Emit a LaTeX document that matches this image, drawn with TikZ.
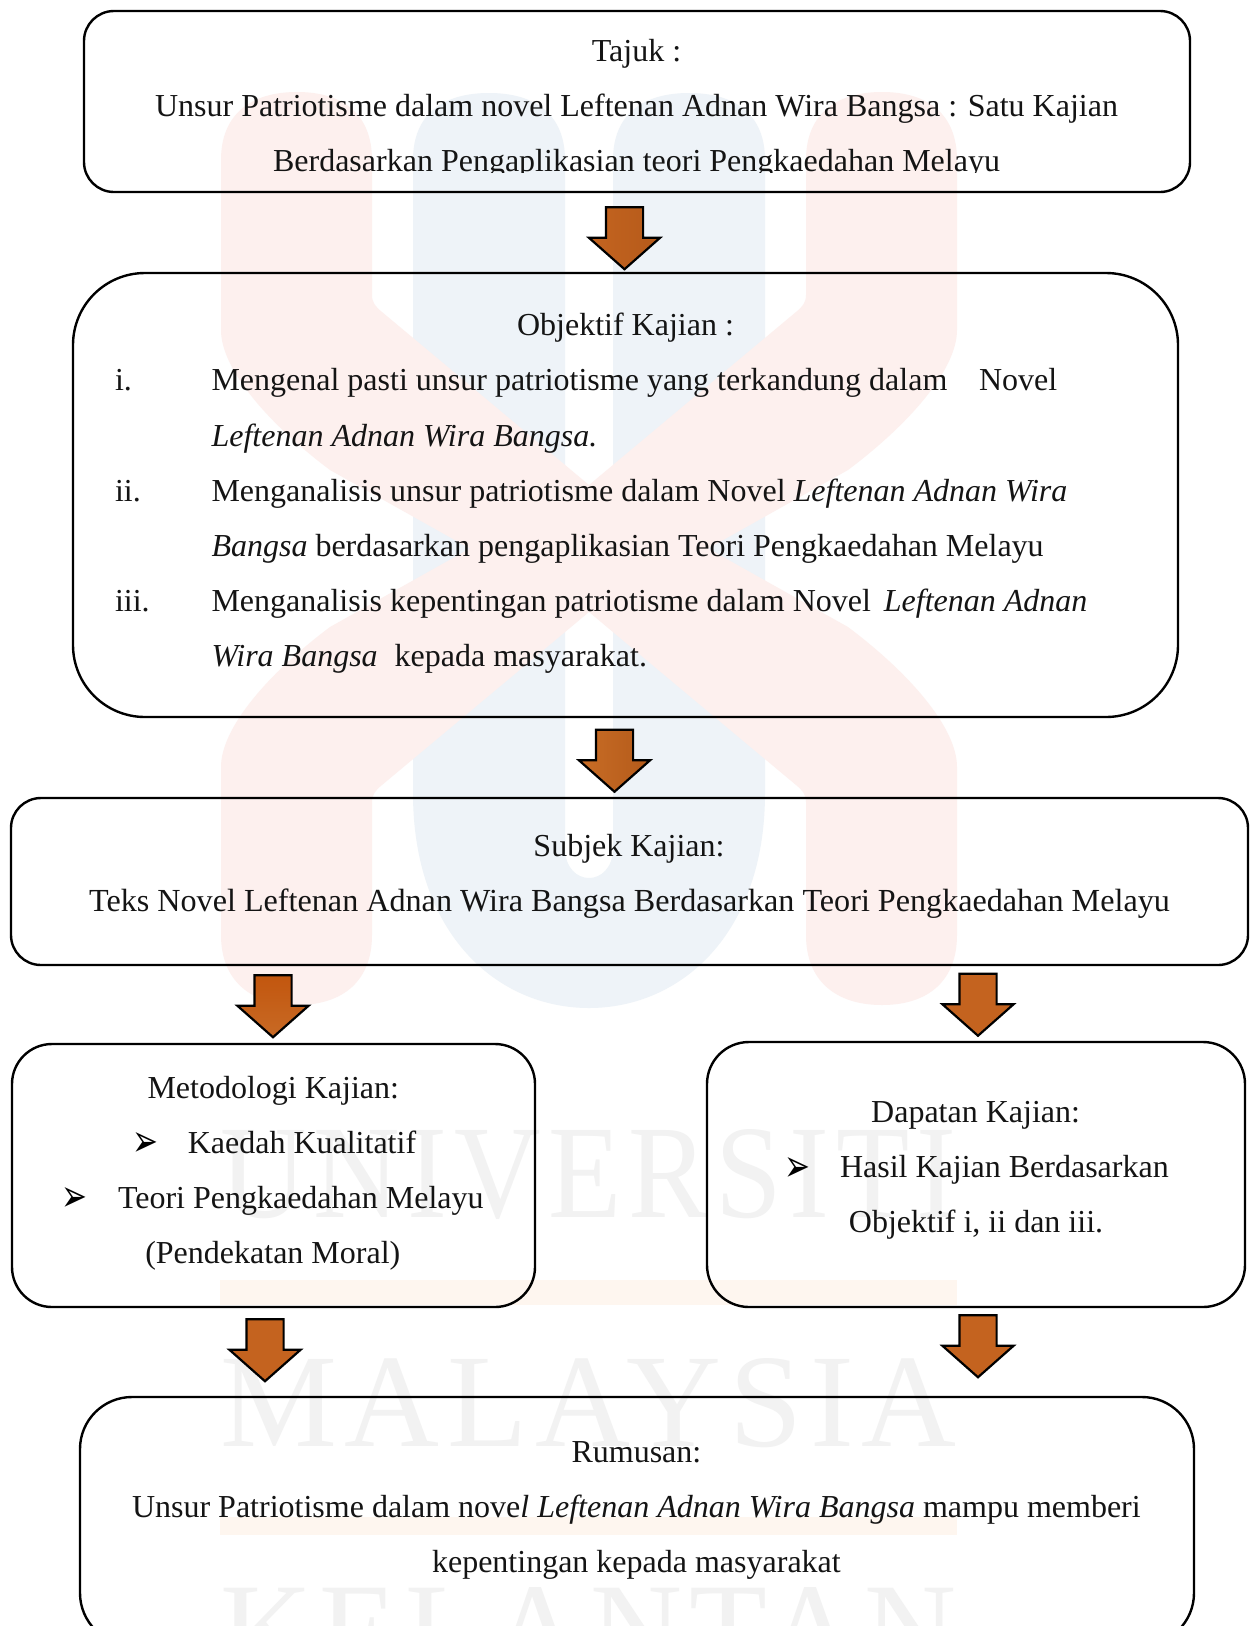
\documentclass[tikz,border=0pt]{standalone}
\usepackage{fontspec}
\usetikzlibrary{shapes.arrows}
\setmainfont{Liberation Serif}
\newfontfamily\dvfont{DejaVu Sans}
\newfontfamily\wmfont[LetterSpace=6]{Liberation Serif}
\definecolor{wmred}{HTML}{FDF0EE}
\definecolor{wmblue}{HTML}{EEF3F8}
\definecolor{wmorange}{HTML}{FEF6EF}
\definecolor{wmgray}{HTML}{F2F2F2}
\definecolor{arrowfill}{HTML}{C4631F}
\definecolor{arLa}{HTML}{C46420}
\definecolor{arRa}{HTML}{B55A1A}
\definecolor{arLb}{HTML}{C96D26}
\definecolor{arRb}{HTML}{B35A1A}
\definecolor{arTc}{HTML}{C2560E}
\definecolor{arBc}{HTML}{C86A25}
\newcommand{\shaftw}{\rule{35pt}{0pt}}
\newcommand{\bulmark}{\scalebox{1}[1.45]{➢}}
\tikzset{
  roundbox/.style={draw=black,line width=2.4pt,rectangle,inner sep=0pt,outer sep=0pt},
  blockarrow/.style={single arrow,draw=black,line width=2.2pt,inner sep=0pt,outer sep=0pt,
    minimum height=62pt,single arrow head extend=17pt,
    single arrow tip angle=97,shape border rotate=270},
  arrowa/.style={blockarrow,fill=arrowfill},
  txt/.style={inner sep=0pt,outer sep=0pt,anchor=base,text=black!92,font=\fontsize{32}{38}\selectfont},
  ltxt/.style={txt,anchor=base west},
  bul/.style={inner sep=0pt,outer sep=0pt,anchor=base west,text=black,font=\dvfont\fontsize{31}{36}\selectfont},
  wm/.style={inner sep=0pt,outer sep=0pt,anchor=north west,text=wmgray}
}
\newcommand{\wmword}[1]{\resizebox{737pt}{88pt}{\wmfont\fontsize{136}{140}\selectfont #1}}
\begin{document}
\begin{tikzpicture}[x=1pt,y=-1pt]
\path[use as bounding box] (0,0) rectangle (1251,1626);
\clip (0,0) rectangle (1251,1626);
\fill[white] (0,0) rectangle (1251,1626);
% watermark logo
\fill[wmblue] (413,160) .. controls (413,115) and (442,93) .. (489,93) .. controls (536,93) and (565,115) .. (565,160)
  -- (565,848) .. controls (565,868) and (577,878) .. (589,878) .. controls (601,878) and (613,868) .. (613,848)
  -- (613,160) .. controls (613,115) and (642,93) .. (689,93) .. controls (736,93) and (765,115) .. (765,160)
  -- (765,793) .. controls (765,935) and (680,1008) .. (589,1008) .. controls (498,1008) and (413,935) .. (413,793) -- cycle;
\fill[wmred] (221,160) .. controls (221,115) and (250,92) .. (297,92) .. controls (344,92) and (372,115) .. (372,160)
  -- (372,295) .. controls (372,303) and (376,307) .. (382,312) -- (589,485) -- (796,312)
  .. controls (802,307) and (806,303) .. (806,295) -- (806,160) .. controls (806,115) and (835,92) .. (882,92)
  .. controls (929,92) and (957,115) .. (957,160) -- (957,330) .. controls (957,370) and (908,425) .. (848,470)
  -- (708,548.5) -- (848,627) .. controls (908,672) and (957,727) .. (957,767)
  -- (957,935) .. controls (957,980) and (929,1005) .. (882,1005) .. controls (835,1005) and (806,980) .. (806,935)
  -- (806,802) .. controls (806,794) and (802,790) .. (796,785) -- (589,612) -- (382,785)
  .. controls (376,790) and (372,794) .. (372,802) -- (372,935) .. controls (372,980) and (344,1005) .. (297,1005)
  .. controls (250,1005) and (221,980) .. (221,935) -- (221,767) .. controls (221,727) and (270,672) .. (330,627)
  -- (470,548.5) -- (330,470) .. controls (270,425) and (221,370) .. (221,330) -- cycle;
\fill[wmorange] (220,1280) rectangle (957,1305);
\fill[wmorange] (220,1517) rectangle (957,1535);
\node[wm] (wmu) at (220,1129) {\wmword{UNIVERSITI}};
\node[wm] (wmm) at (220,1358) {\wmword{MALAYSIA}};
\node[wm] (wmk) at (220,1587) {\wmword{KELANTAN}};
% boxes
\node[roundbox,rounded corners=30pt,minimum width=1106pt,minimum height=181pt] (b1) at (637,101.5) {};
\node[roundbox,rounded corners=72pt,minimum width=1105pt,minimum height=444pt] (b2) at (625.5,495) {};
\node[roundbox,rounded corners=30pt,minimum width=1237pt,minimum height=167pt] (b3) at (629.5,881.5) {};
\node[roundbox,rounded corners=40pt,minimum width=523pt,minimum height=263pt] (b4) at (273.5,1175.5) {};
\node[roundbox,rounded corners=42pt,minimum width=538pt,minimum height=265pt] (b5) at (976,1174.5) {};
\node[roundbox,rounded corners=52pt,minimum width=1114pt,minimum height=248pt] (b6) at (637,1521) {};
% arrows
\node[blockarrow,left color=arLa,right color=arRa] (a1) at (624.5,230) {\shaftw};
\node[blockarrow,left color=arLb,right color=arRb] (a2) at (614.5,752.5) {\shaftw};
\node[blockarrow,top color=arTc,bottom color=arBc] (a3) at (273,998) {\shaftw};
\node[arrowa] (a4) at (978,996.5) {\shaftw};
\node[arrowa] (a5) at (265,1342) {\shaftw};
\node[arrowa] (a6) at (978,1338) {\shaftw};
% texts
\node[txt] (t1) at (636.5,61) {Tajuk :};
\node[txt] (t2) at (636.5,116) {Unsur Patriotisme dalam novel Leftenan Adnan Wira Bangsa : Satu Kajian};
\begin{scope}
\clip (0,0) rectangle (1251,172);
\node[txt] (t3) at (636.5,171.5) {Berdasarkan Pengaplikasian teori Pengkaedahan Melayu};
\end{scope}
\node[txt] (o0) at (625.5,335) {Objektif Kajian :};
\node[ltxt] (o1n) at (115,390.5) {i.};
\node[ltxt] (o1) at (211.5,390.5) {Mengenal pasti unsur patriotisme yang terkandung dalam};
\node[ltxt] (o1b) at (979,390.5) {Novel};
\node[ltxt] (o2) at (211.5,446.5) {\textit{Leftenan Adnan Wira Bangsa.}};
\node[ltxt] (o3n) at (115,501) {ii.};
\node[ltxt] (o3) at (211.5,501) {Menganalisis unsur patriotisme dalam Novel \textit{Leftenan Adnan Wira}};
\node[ltxt] (o4) at (211.5,556) {\textit{Bangsa} berdasarkan pengaplikasian Teori Pengkaedahan Melayu};
\node[ltxt] (o5n) at (115,611.5) {iii.};
\node[ltxt] (o5) at (211.5,611.5) {Menganalisis kepentingan patriotisme dalam Novel\hspace{5pt} \textit{Leftenan Adnan}};
\node[ltxt] (o6) at (211.5,666) {\textit{Wira Bangsa}\hspace{9pt} kepada masyarakat.};
\node[txt] (s0) at (629,856) {Subjek Kajian:};
\node[txt,font=\fontsize{32.15}{38}\selectfont] (s1) at (629.5,911) {Teks Novel Leftenan Adnan Wira Bangsa Berdasarkan Teori Pengkaedahan Melayu};
\node[txt] (m0) at (273.3,1098.7) {Metodologi Kajian:};
\node[bul] (m1b) at (132,1156.7) {\bulmark};
\node[ltxt] (m1) at (187.8,1153.7) {Kaedah Kualitatif};
\node[bul] (m2b) at (61.5,1211) {\bulmark};
\node[ltxt] (m2) at (118,1208) {Teori Pengkaedahan Melayu};
\node[txt] (m3) at (272.8,1263) {(Pendekatan Moral)};
\node[txt] (d0) at (975.6,1122) {Dapatan Kajian:};
\node[bul] (d1b) at (784,1181) {\bulmark};
\node[ltxt] (d1) at (840,1177) {Hasil Kajian Berdasarkan};
\node[txt] (d2) at (976,1232) {Objektif i, ii dan iii.};
\node[txt] (r0) at (636.4,1462.7) {Rumusan:};
\node[txt] (r1) at (636.4,1517.7) {Unsur Patriotisme dalam nove\textit{l Leftenan Adnan Wira Bangsa} mampu memberi};
\node[txt] (r2) at (636.4,1572.7) {kepentingan kepada masyarakat};
\end{tikzpicture}
\end{document}
